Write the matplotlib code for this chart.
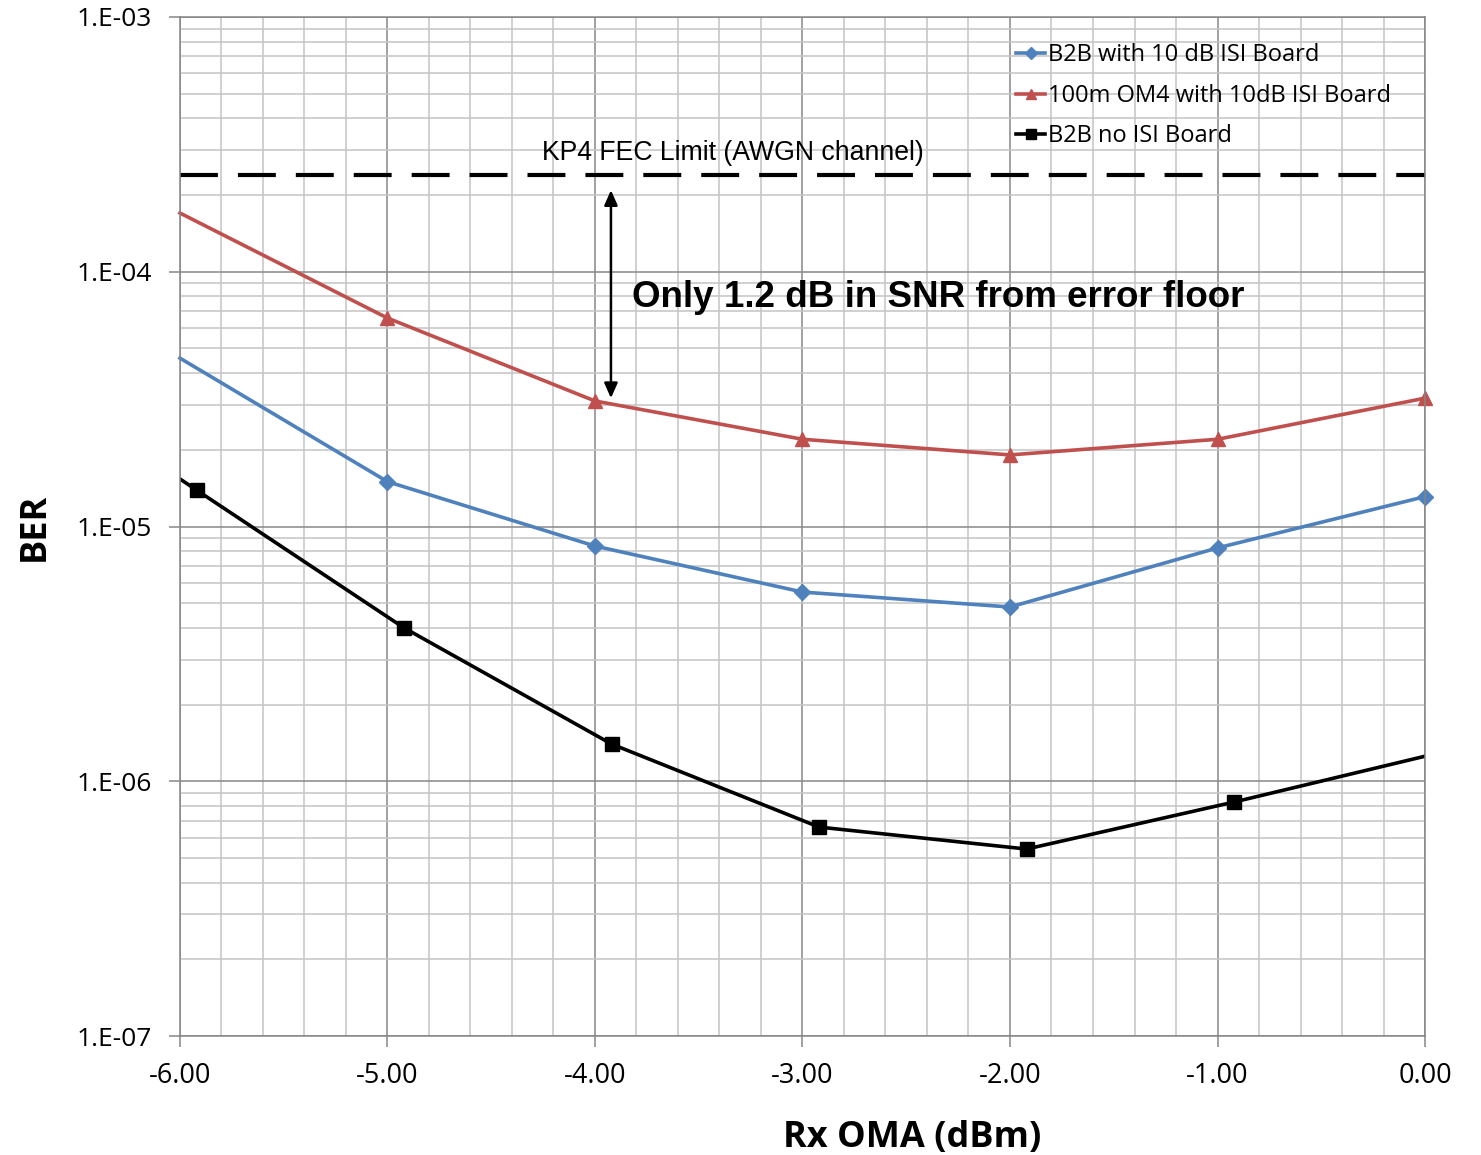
import matplotlib
matplotlib.use("Agg")
import matplotlib.pyplot as plt
import numpy as np
from matplotlib.ticker import MultipleLocator, LogLocator, FixedLocator

# data
rx_oma = [-6.0, -5.0, -4.0, -3.0, -2.0, -1.0, 0.0]
ber_b2b_isi = [4.58e-5, 1.50e-5, 8.38e-6, 5.53e-6, 4.83e-6, 8.24e-6, 1.31e-5]
ber_om4_isi = [1.70e-4, 6.58e-5, 3.11e-5, 2.20e-5, 1.91e-5, 2.20e-5, 3.19e-5]
# black series sits slightly right of the others, ends run past the axis
rx_oma_noisi = [-6.08, -5.92, -4.92, -3.92, -2.92, -1.92, -0.92, 0.08]
ber_b2b_noisi = [1.70e-5, 1.39e-5, 4.0e-6, 1.40e-6, 6.61e-7, 5.42e-7, 8.29e-7, 1.30e-6]
fec_limit = 2.4e-4

xticks = [-6, -5, -4, -3, -2, -1, 0]
yticks = [1e-7, 1e-6, 1e-5, 1e-4, 1e-3]
ytick_labels = ["1.E-07", "1.E-06", "1.E-05", "1.E-04", "1.E-03"]

blue = "#4F81BD"
red = "#C0504D"
tick_font = "Open Sans"

fig = plt.figure(figsize=(14.81, 11.55), dpi=100)
ax = fig.add_axes([0.1215, 0.1030, 0.8407, 0.8823])

ax.plot(rx_oma, ber_b2b_isi, color=blue, lw=2.6, marker="D", ms=8,
        markevery=slice(1, None), clip_on=False, label="B2B with 10 dB ISI Board")
ax.plot(rx_oma, ber_om4_isi, color=red, lw=2.6, marker="^", ms=10,
        markevery=slice(1, None), clip_on=False, label="100m OM4 with 10dB ISI Board")
ax.plot(rx_oma_noisi, ber_b2b_noisi, color="black", lw=2.6, marker="s", ms=10,
        label="B2B no ISI Board")

ax.axhline(fec_limit, color="black", lw=3, dashes=(9.1, 4.8))
ax.text(-4.255, 2.92e-4, "KP4 FEC Limit (AWGN channel)", fontsize=19.2,
        family="Liberation Sans", va="center", ha="left")
ax.annotate("", xy=(-3.923, 3.19e-5), xytext=(-3.923, 2.09e-4),
            arrowprops=dict(arrowstyle="<|-|>,head_length=0.9,head_width=0.4",
                            color="black", lw=1.8, shrinkA=0, shrinkB=0))
ax.text(-3.822, 7.9e-5, "Only 1.2 dB in SNR from error floor", fontsize=26.5,
        family="Liberation Sans", fontweight="bold", va="center", ha="left")

ax.set_yscale("log")
ax.set_xlim(-6, 0)
ax.set_ylim(1e-7, 1e-3)

ax.xaxis.set_major_locator(FixedLocator(xticks))
ax.xaxis.set_minor_locator(MultipleLocator(0.2))
ax.yaxis.set_major_locator(FixedLocator(yticks))
ax.yaxis.set_minor_locator(LogLocator(base=10, subs=np.arange(2, 10)))
ax.set_xticklabels(["%.2f" % v for v in xticks], family=tick_font, fontsize=19.5)
ax.set_yticklabels(ytick_labels, family=tick_font, fontsize=19)
ax.tick_params(which="major", length=8, width=1.1, color="#868686", direction="out")
ax.tick_params(axis="x", which="major", pad=11)
ax.tick_params(axis="y", which="major", pad=12)
ax.tick_params(which="minor", length=0)

ax.grid(which="major", color="#888888", lw=1.1)
ax.grid(which="minor", color="#c4c4c4", lw=1.1)
ax.set_axisbelow(True)
for s in ax.spines.values():
    s.set_color("#868686")
    s.set_linewidth(1.1)

ax.set_xlabel("Rx OMA (dBm)", family=tick_font, fontweight="bold", fontsize=26)
ax.xaxis.set_label_coords(0.588, -0.1)
ax.xaxis.label.set_va("center")
ax.set_ylabel("BER", family=tick_font, fontweight="bold", fontsize=26, labelpad=17)

leg = ax.legend(loc="upper right", frameon=False, prop={"family": tick_font, "size": 17},
                handlelength=1.2, handletextpad=0.15, labelspacing=0.7,
                bbox_to_anchor=(0.99, 0.995), markerscale=0.75)

fig.savefig("out.png", dpi=100)
